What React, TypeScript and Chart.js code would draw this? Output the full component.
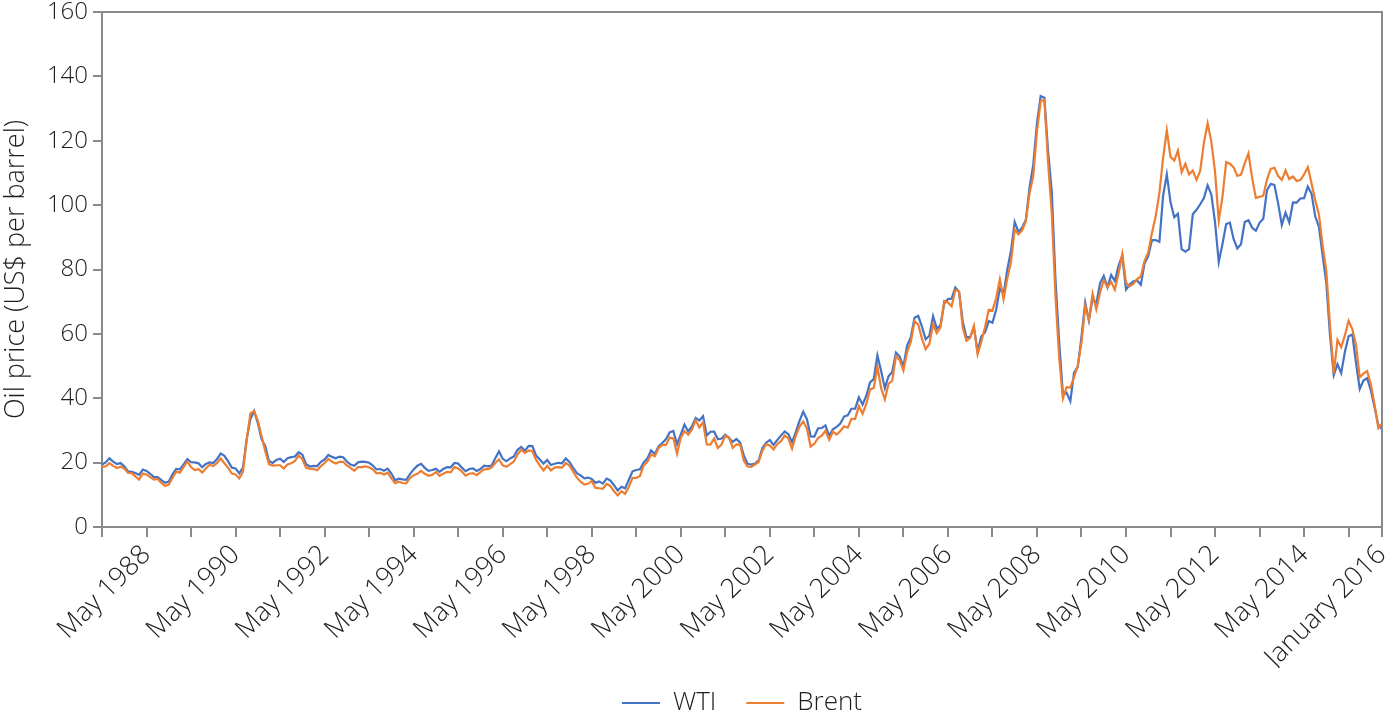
import React, { useEffect, useRef } from "react";
import { Chart, registerables } from "chart.js";

Chart.register(...registerables);

// Monthly spot prices, May 1987 – Feb 2016 (US$ per barrel)
const wti: number[] = [
  // 1987 (May–Dec)
  19.44, 20.07, 21.34, 20.31, 19.53, 19.86, 18.85, 17.28,
  // 1988
  17.13, 16.8, 16.2, 17.86, 17.42, 16.53, 15.5, 15.52, 14.54, 13.77, 14.14, 16.38,
  // 1989
  18.02, 17.94, 19.48, 21.07, 20.12, 20.05, 19.78, 18.58, 19.59, 20.1, 19.86, 21.1,
  // 1990
  22.86, 22.11, 20.39, 18.43, 18.2, 16.7, 18.45, 27.31, 33.51, 36.04, 32.33, 27.28,
  // 1991
  25.23, 20.48, 19.9, 20.83, 21.23, 20.19, 21.4, 21.69, 21.89, 23.23, 22.46, 19.5,
  // 1992
  18.79, 19.01, 18.92, 20.23, 20.98, 22.39, 21.78, 21.34, 21.88, 21.69, 20.34, 19.41,
  // 1993
  19.03, 20.09, 20.32, 20.25, 19.95, 19.09, 17.89, 18.01, 17.5, 18.15, 16.61, 14.52,
  // 1994
  15.03, 14.78, 14.68, 16.42, 17.89, 19.06, 19.65, 18.38, 17.45, 17.72, 18.07, 17.16,
  // 1995
  18.04, 18.57, 18.54, 19.9, 19.74, 18.45, 17.33, 18.02, 18.23, 17.43, 17.99, 19.03,
  // 1996
  18.86, 19.09, 21.33, 23.5, 21.17, 20.42, 21.3, 21.9, 23.97, 24.88, 23.71, 25.23,
  // 1997
  25.13, 22.18, 20.97, 19.7, 20.82, 19.26, 19.66, 19.95, 19.8, 21.33, 20.19, 18.33,
  // 1998
  16.72, 16.06, 15.12, 15.35, 14.91, 13.72, 14.17, 13.47, 15.03, 14.46, 13.0, 11.35,
  // 1999
  12.52, 12.01, 14.68, 17.31, 17.72, 17.92, 20.1, 21.28, 23.8, 22.69, 25.0, 26.1,
  // 2000
  27.26, 29.37, 29.84, 25.72, 28.79, 31.82, 29.7, 31.26, 33.88, 33.11, 34.42, 28.44,
  // 2001
  29.59, 29.61, 27.24, 27.49, 28.63, 27.6, 26.43, 27.37, 26.2, 22.17, 19.64, 19.39,
  // 2002
  19.72, 20.72, 24.53, 26.18, 27.04, 25.52, 26.97, 28.39, 29.66, 28.84, 26.35, 29.46,
  // 2003
  32.95, 35.83, 33.51, 28.17, 28.11, 30.66, 30.76, 31.57, 28.31, 30.34, 31.11, 32.13,
  // 2004
  34.31, 34.69, 36.74, 36.75, 40.28, 38.03, 40.78, 44.9, 45.94, 53.28, 48.47, 43.15,
  // 2005
  46.84, 48.15, 54.19, 52.98, 49.83, 56.35, 59.0, 64.99, 65.59, 62.26, 58.32, 59.41,
  // 2006
  65.49, 61.63, 62.69, 69.44, 70.84, 70.95, 74.41, 73.04, 63.8, 58.89, 59.08, 61.96,
  // 2007
  54.51, 59.28, 60.44, 63.98, 63.46, 67.49, 74.12, 72.36, 79.92, 85.8, 94.77, 91.69,
  // 2008
  92.97, 95.39, 105.45, 112.58, 125.4, 133.88, 133.37, 116.67, 104.11, 76.61, 57.31, 41.12,
  // 2009
  41.71, 39.09, 47.94, 49.65, 59.03, 69.64, 64.15, 71.05, 69.41, 75.72, 77.99, 74.47,
  // 2010
  78.33, 76.39, 81.2, 84.29, 73.74, 75.34, 76.32, 76.6, 75.24, 81.89, 84.25, 89.15,
  // 2011
  89.17, 88.58, 102.86, 109.53, 100.9, 96.26, 97.3, 86.33, 85.52, 86.32, 97.16, 98.56,
  // 2012
  100.27, 102.2, 106.16, 103.32, 94.66, 82.3, 87.9, 94.13, 94.51, 89.49, 86.53, 87.86,
  // 2013
  94.76, 95.31, 92.94, 92.02, 94.51, 95.77, 104.67, 106.57, 106.29, 100.54, 93.86, 97.63,
  // 2014
  94.62, 100.82, 100.8, 102.07, 102.18, 105.79, 103.59, 96.54, 93.21, 84.4, 75.79, 59.29,
  // 2015
  47.22, 50.58, 47.82, 54.45, 59.27, 59.82, 50.9, 42.87, 45.48, 46.22, 42.44, 37.19,
  // 2016 (Jan–Feb)
  31.68, 30.32,
];

const brent: number[] = [
  // 1987 (May–Dec)
  18.58, 18.86, 19.86, 18.98, 18.31, 18.76, 18.14, 16.86,
  // 1988
  16.74, 15.73, 14.73, 16.6, 16.31, 15.49, 14.71, 14.94, 13.66, 12.76, 13.16, 15.3,
  // 1989
  17.17, 16.89, 18.7, 20.32, 18.63, 17.67, 17.98, 16.95, 18.19, 19.35, 18.92, 19.87,
  // 1990
  21.25, 19.81, 18.39, 16.61, 16.35, 15.1, 17.17, 27.17, 35.3, 36.02, 33.07, 28.27,
  // 1991
  23.57, 19.54, 19.08, 19.18, 19.19, 18.17, 19.4, 19.77, 20.5, 22.21, 21.11, 18.41,
  // 1992
  18.16, 18.05, 17.63, 18.92, 19.89, 21.16, 20.25, 19.74, 20.27, 20.26, 19.11, 18.39,
  // 1993
  17.45, 18.63, 18.6, 18.84, 18.58, 17.87, 16.69, 16.84, 16.29, 16.85, 15.08, 13.63,
  // 1994
  14.06, 13.66, 13.55, 15.17, 16.08, 16.5, 17.45, 16.52, 15.9, 16.25, 17.03, 15.91,
  // 1995
  16.57, 17.15, 16.98, 18.59, 18.15, 17.25, 15.96, 16.55, 16.72, 16.12, 17.05, 17.93,
  // 1996
  17.96, 18.49, 19.9, 20.98, 19.16, 18.69, 19.54, 20.32, 22.5, 23.98, 23.04, 23.78,
  // 1997
  23.54, 20.85, 19.13, 17.56, 19.02, 17.58, 18.46, 18.6, 18.46, 19.86, 19.08, 17.15,
  // 1998
  15.33, 14.07, 13.16, 13.41, 14.23, 12.13, 12.03, 11.88, 13.36, 12.77, 11.07, 9.82,
  // 1999
  11.12, 10.27, 12.51, 15.29, 15.23, 15.86, 19.08, 20.23, 22.54, 21.99, 24.53, 25.51,
  // 2000
  25.51, 27.78, 27.49, 22.76, 27.74, 29.8, 28.68, 30.2, 33.14, 30.96, 32.55, 25.66,
  // 2001
  25.62, 27.5, 24.5, 25.66, 28.31, 27.85, 24.61, 25.68, 25.62, 20.54, 18.8, 18.71,
  // 2002
  19.42, 20.28, 23.7, 25.73, 25.35, 24.08, 25.74, 26.65, 28.4, 27.54, 24.34, 28.33,
  // 2003
  31.18, 32.77, 30.61, 25.0, 25.86, 27.65, 28.35, 29.89, 27.11, 29.61, 28.75, 29.81,
  // 2004
  31.28, 30.86, 33.63, 33.59, 37.57, 35.18, 38.22, 42.74, 43.2, 49.78, 43.11, 39.6,
  // 2005
  44.51, 45.48, 53.1, 51.88, 48.65, 54.35, 57.52, 63.98, 62.91, 58.54, 55.24, 56.86,
  // 2006
  62.99, 60.21, 62.06, 70.26, 69.78, 68.56, 73.67, 73.23, 61.96, 57.81, 58.76, 62.47,
  // 2007
  53.68, 57.56, 62.05, 67.49, 67.21, 71.05, 76.93, 70.76, 77.17, 82.34, 92.41, 90.93,
  // 2008
  92.18, 94.99, 103.64, 109.07, 122.8, 132.32, 132.72, 113.24, 97.23, 71.58, 52.45, 39.95,
  // 2009
  43.44, 43.32, 46.54, 50.18, 57.3, 68.61, 64.44, 72.51, 67.65, 72.77, 76.66, 74.46,
  // 2010
  76.17, 73.75, 78.83, 84.82, 75.95, 74.76, 75.58, 77.04, 77.84, 82.67, 85.28, 91.45,
  // 2011
  96.52, 103.72, 114.64, 123.26, 114.99, 113.83, 116.97, 110.22, 112.83, 109.55, 110.77, 107.87,
  // 2012
  110.69, 119.33, 125.45, 119.75, 110.34, 95.16, 102.62, 113.36, 112.86, 111.71, 109.06, 109.49,
  // 2013
  112.96, 116.05, 108.47, 102.25, 102.56, 102.92, 107.93, 111.28, 111.6, 109.08, 107.79, 110.76,
  // 2014
  108.12, 108.9, 107.48, 107.76, 109.54, 111.8, 106.77, 101.61, 97.09, 87.43, 79.44, 62.34,
  // 2015
  47.76, 58.1, 55.89, 59.52, 64.08, 61.48, 56.56, 46.52, 47.62, 48.43, 44.27, 38.01,
  // 2016 (Jan–Feb)
  30.7, 32.18,
];

// Tick positions (month index from May 1987) and their labels
const xTickIdx: number[] = [
  0, 12, 24, 36, 48, 60, 72, 84, 96, 108, 120, 132, 144, 156, 168, 180, 192, 204,
  216, 228, 240, 252, 264, 276, 288, 300, 312, 324, 336, 345,
];
const xTickLabels: string[] = [
  "", "May 1988", "", "May 1990", "", "May 1992", "", "May 1994", "", "May 1996",
  "", "May 1998", "", "May 2000", "", "May 2002", "", "May 2004", "", "May 2006",
  "", "May 2008", "", "May 2010", "", "May 2012", "", "May 2014", "", "January 2016",
];

const seriesNames = ["WTI", "Brent"];
const seriesColors = ["#4472C4", "#ED7D31"];
const yTitle = "Oil price (US$ per barrel)";

const FONT = '"Open Sans", "Noto Sans", sans-serif';
const AXIS = "#8a8a8a";
const TEXT = "#1e1e1e";

const frame = {
  id: "frame",
  afterLayout(chart: any) {
    // let the legend sit slightly over the (tall, rotated-label) x-axis box
    const lg = chart.legend;
    if (lg) {
      lg.top -= 8;
      lg.bottom -= 8;
    }
  },
  afterDatasetsDraw(chart: any) {
    const { ctx, chartArea } = chart;
    ctx.save();
    ctx.strokeStyle = AXIS;
    ctx.lineWidth = 2;
    ctx.beginPath();
    ctx.moveTo(chartArea.left, chartArea.top);
    ctx.lineTo(chartArea.right, chartArea.top);
    ctx.lineTo(chartArea.right, chartArea.bottom);
    ctx.stroke();
    ctx.restore();
  },
};

export default function App() {
  const ref = useRef<HTMLCanvasElement | null>(null);

  useEffect(() => {
    if (!ref.current) return;
    const series = [wti, brent];
    const chart = new Chart(ref.current, {
      type: "line",
      data: {
        datasets: series.map((vals, k) => ({
          label: seriesNames[k],
          data: vals.map((v, i) => ({ x: i, y: v })),
          borderColor: seriesColors[k],
          backgroundColor: seriesColors[k],
          borderWidth: 2.2,
          pointRadius: 0,
          tension: 0,
          fill: false,
          order: k === 1 ? 0 : 1,
        })),
      },
      options: {
        animation: false,
        responsive: true,
        maintainAspectRatio: false,
        layout: { padding: { top: 12, right: 13, left: 0, bottom: -17 } },
        plugins: {
          tooltip: { enabled: false },
          legend: {
            position: "bottom",
            fullSize: false,
            labels: {
              sort: (a: any, b: any) => a.datasetIndex - b.datasetIndex,
              usePointStyle: true,
              pointStyle: "line",
              pointStyleWidth: 38,
              padding: 30,
              color: TEXT,
              font: { family: FONT, size: 26, weight: "300" },
            },
          },
        },
        scales: {
          x: {
            type: "linear",
            min: 0,
            max: wti.length - 1,
            afterBuildTicks: (scale: any) => {
              scale.ticks = xTickIdx.map((v) => ({ value: v }));
            },
            afterFit: (scale: any) => {
              scale.height = 141;
              scale.paddingLeft = 0;
              scale.paddingRight = 0;
            },
            ticks: {
              autoSkip: false,
              maxRotation: 45,
              minRotation: 45,
              padding: 2,
              color: TEXT,
              font: { family: FONT, size: 27, weight: "300" },
              callback: (_v: any, i: number) => xTickLabels[i],
            },
            grid: {
              drawOnChartArea: false,
              tickLength: 10,
              color: AXIS,
              lineWidth: 2,
            },
            border: { color: AXIS, width: 2 },
          },
          y: {
            min: 0,
            max: 160,
            afterFit: (scale: any) => {
              scale.width = 102;
              scale.paddingTop = 0;
              scale.paddingBottom = 0;
            },
            ticks: {
              stepSize: 20,
              padding: 5,
              color: TEXT,
              font: { family: FONT, size: 24, weight: "300" },
            },
            grid: {
              drawOnChartArea: false,
              tickLength: 9,
              color: AXIS,
              lineWidth: 2,
            },
            border: { color: AXIS, width: 2 },
            title: {
              display: true,
              text: yTitle,
              color: TEXT,
              padding: { top: 0, bottom: 0 },
              font: { family: FONT, size: 27, weight: "300" },
            },
          },
        },
      },
      plugins: [frame],
    });
    return () => chart.destroy();
  }, []);

  return (
    <div style={{ position: "absolute", left: 0, top: 0, width: 1395, height: 717 }}>
      <canvas ref={ref} />
    </div>
  );
}
